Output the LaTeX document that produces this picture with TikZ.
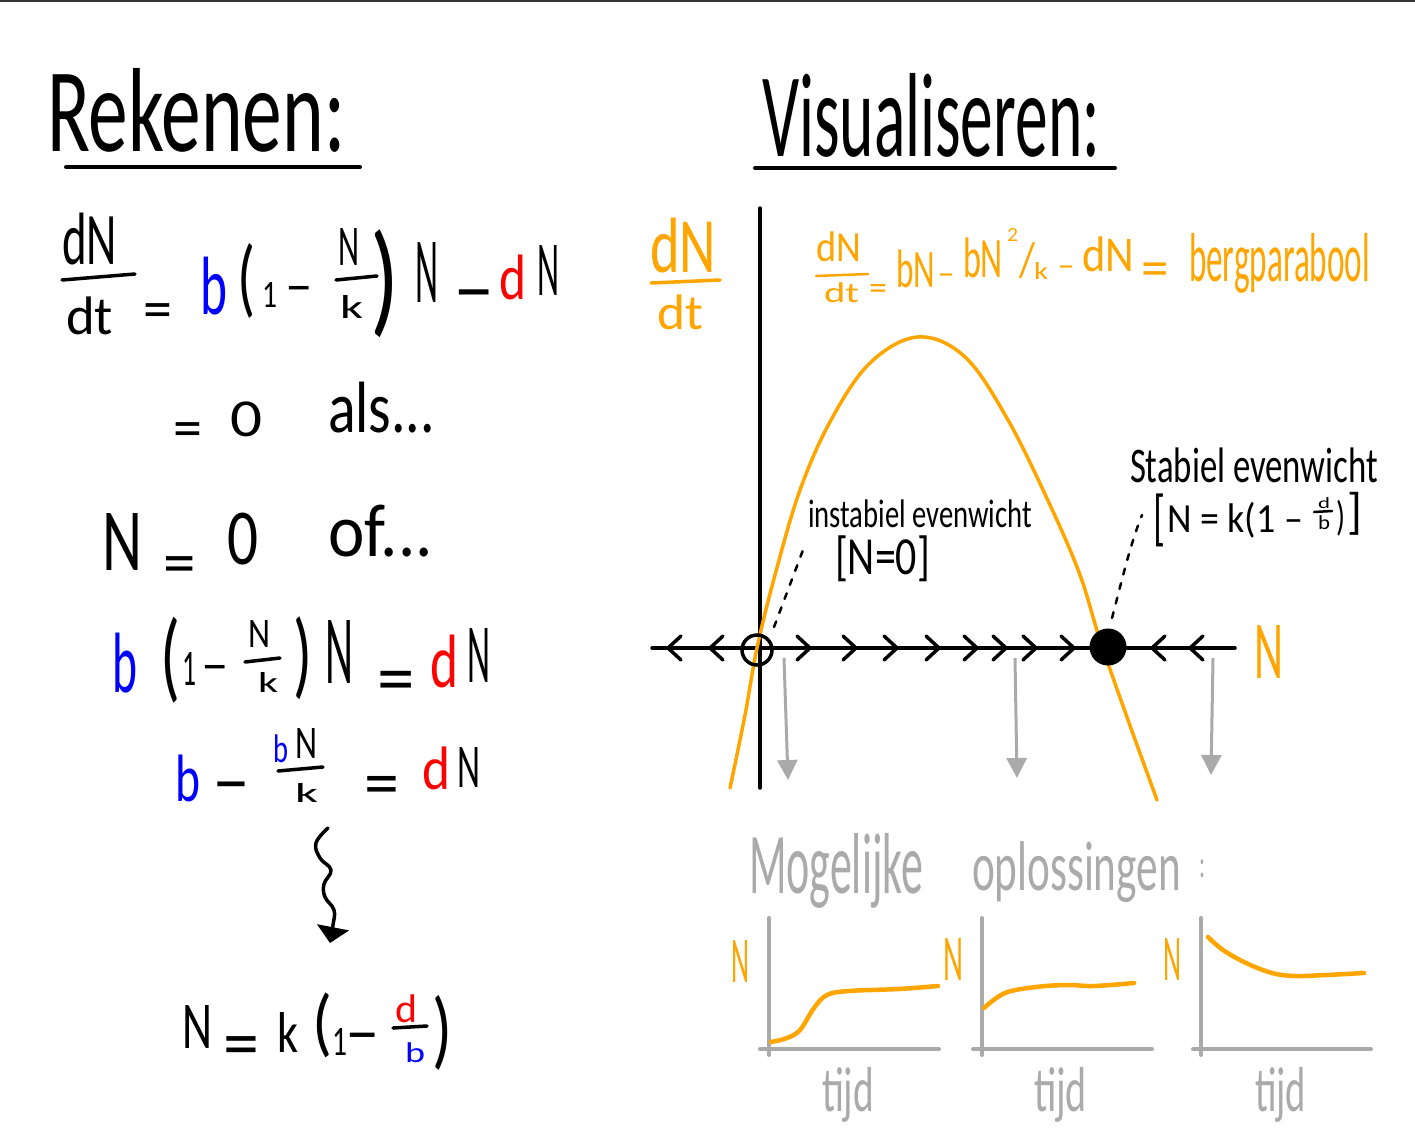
\documentclass[tikz,border=0pt]{standalone}
\usepackage{fontspec}
\setmainfont{Carlito}
\usepackage{graphicx}
\usetikzlibrary{arrows.meta}
\definecolor{hor}{RGB}{255,165,0}
\definecolor{hbl}{RGB}{0,0,255}
\definecolor{hrd}{RGB}{255,0,0}
\definecolor{hgr}{RGB}{170,170,170}
\definecolor{htop}{RGB}{51,51,51}
\newcommand\fb[3]{\resizebox*{#1pt}{#2pt}{#3}}
\begin{document}
\begin{tikzpicture}[x=1pt,y=-1pt,
  t/.style={inner sep=0pt, outer sep=0pt, anchor=north west, font=\fontsize{20}{24}\selectfont},
  op/.style={inner sep=0pt, outer sep=0pt, anchor=base},
  ink/.style={line width=3.5pt, line cap=round, line join=round},
  thin/.style={line width=2.5pt, line cap=round},
  gax/.style={line width=4pt, hgr, line cap=round},
  ocurve/.style={line width=4.5pt, hor, line cap=round},
  dotline/.style={line width=2.5pt, dash pattern=on 6pt off 9pt, line cap=round},
  garrow/.style={line width=3pt, hgr, -{Triangle[length=20pt,width=20pt]}},
  chev/.style={line width=3.5pt, line cap=round, line join=round}]
\useasboundingbox (0,0) rectangle (1415,1142);
\fill[white] (0,0) rectangle (1415,1142);
\fill[htop] (0,0) rectangle (1415,2.5);

% ---------- titles
\node[t] (tit1) at (47,68) {\fb{298}{84}{Rekenen:}};
\draw[line width=4pt, line cap=round] (66,167) -- (360,167);
\node[t] (tit2) at (762,73) {\fb{338}{84}{Visualiseren:}};
\draw[line width=4pt, line cap=round] (755,168) -- (1115,168);

% ---------- equation 1
\node[t] (e1n) at (62,213) {\fb{55}{52}{dN}};
\draw[ink] (62,280) -- (135,274);
\node[t] (e1d) at (66,297) {\fb{47}{38}{dt}};
\node[op, font=\fontsize{58}{58}\selectfont] (e1eq) at (158,328) {=};
\node[t, text=hbl] (e1b) at (200,257) {\fb{27}{58}{b}};
\node[t] (e1p) at (237,243) {\fb{18}{75}{(}};
\node[t] (e1one) at (262,282) {\fb{15}{25}{1}};
\node[op, font=\fontsize{55}{55}\selectfont] (e1m) at (299,303) {–};
\node[t] (e1fn) at (338,228) {\fb{21}{37}{N}};
\draw[ink] (336,280) -- (377,276);
\node[t] (e1fk) at (340,295) {\fb{23}{23}{k}};
\node[t] (e1q) at (370,230) {\fb{29}{108}{)}};
\node[t] (e1N) at (415,242) {\fb{23}{60}{N}};
\node[op, font=\fontsize{83}{83}\selectfont] (e1m2) at (474,315) {–};
\node[t, text=hrd] (e1dd) at (499,255) {\fb{27}{45}{d}};
\node[t] (e1N2) at (537,245) {\fb{22}{50}{N}};

% ---------- equation 2
\node[op, font=\fontsize{58}{58}\selectfont] (e2eq) at (188,447) {=};
\node[t] (e2z) at (230,402) {\fb{32}{35}{0}};
\node[t] (e2als) at (328,382) {\fb{107}{51}{als...}};

% ---------- equation 3
\node[t] (e3N) at (102,513) {\fb{40}{57}{N}};
\node[op, font=\fontsize{65}{65}\selectfont] (e3eq) at (180,584) {=};
\node[t] (e3z) at (227,513) {\fb{31}{52}{0}};
\node[t] (e3of) at (328,505) {\fb{105}{52}{of...}};

% ---------- equation 4
\node[t, text=hbl] (e4b) at (112,633) {\fb{25}{60}{b}};
\node[t] (e4p) at (160,617) {\fb{20}{86}{(}};
\node[t] (e4one) at (182,652) {\fb{14}{33}{1}};
\node[op, font=\fontsize{55}{55}\selectfont] (e4m) at (215,682) {–};
\node[t] (e4fn) at (248,620) {\fb{22}{27}{N}};
\draw[ink] (245,662) -- (280,658);
\node[t] (e4fk) at (258,672) {\fb{20}{20}{k}};
\node[t] (e4q) at (293,617) {\fb{19}{83}{)}};
\node[t] (e4N) at (325,620) {\fb{28}{63}{N}};
\node[op, font=\fontsize{75}{75}\selectfont] (e4eq) at (396,703) {=};
\node[t, text=hrd] (e4d) at (430,635) {\fb{28}{53}{d}};
\node[t] (e4N2) at (467,628) {\fb{23}{54}{N}};

% ---------- equation 5
\node[t, text=hbl] (e5b) at (175,755) {\fb{25}{47}{b}};
\node[op, font=\fontsize{76}{76}\selectfont] (e5m) at (231,805) {–};
\node[t, text=hbl] (e5fb) at (273,735) {\fb{15}{28}{b}};
\node[t] (e5fn) at (295,728) {\fb{22}{30}{N}};
\draw[ink] (278,771) -- (323,767);
\node[t] (e5fk) at (295,783) {\fb{23}{19}{k}};
\node[op, font=\fontsize{70}{70}\selectfont] (e5eq) at (382,806) {=};
\node[t, text=hrd] (e5d) at (422,747) {\fb{28}{43}{d}};
\node[t] (e5N) at (457,747) {\fb{23}{40}{N}};

% ---------- squiggly arrow
\coordinate (sqs) at (328,828);
\coordinate (sqe) at (330,943);
\draw[ink, -{Triangle[length=16pt,width=32pt]}] plot[smooth, tension=0.7] coordinates {(sqs) (316,843) (320,858) (331,870) (324,884) (325,897) (334,910) (333,925) (sqe)};

% ---------- equation 6
\node[t] (e6N) at (182,1005) {\fb{30}{43}{N}};
\node[op, font=\fontsize{72}{72}\selectfont] (e6eq) at (241,1067) {=};
\node[t] (e6k) at (277,1012) {\fb{21}{40}{k}};
\node[t] (e6p) at (312,993) {\fb{20}{65}{(}};
\node[t] (e6one) at (332,1028) {\fb{15}{27}{1}};
\node[op, font=\fontsize{69}{69}\selectfont] (e6m) at (363,1054) {–};
\node[t, text=hrd] (e6d) at (395,995) {\fb{22}{28}{d}};
\draw[ink] (393,1028) -- (427,1026);
\node[t, text=hbl] (e6b) at (405,1043) {\fb{20}{20}{b}};
\node[t] (e6q) at (432,995) {\fb{20}{75}{)}};

% ---------- right graph: axes label
\node[t, text=hor] (ydn) at (650,218) {\fb{66}{55}{dN}};
\draw[ink, hor] (651,283) -- (720,280);
\node[t, text=hor] (ydt) at (657,295) {\fb{46}{35}{dt}};

% formula
\node[t, text=hor] (fdn) at (816,232) {\fb{45}{30}{dN}};
\draw[thin, hor] (816,276) -- (868,274);
\node[t, text=hor] (fdt) at (824,283) {\fb{35}{20}{dt}};
\node[op, text=hor, font=\fontsize{35}{35}\selectfont] (feq) at (878,299) {=};
\node[t, text=hor] (fbn) at (896,250) {\fb{39}{38}{bN}};
\node[op, text=hor, font=\fontsize{34}{34}\selectfont] (fm1) at (946,284) {–};
\node[t, text=hor] (fbn2) at (963,238) {\fb{40}{40}{bN}};
\node[t, text=hor] (fsq) at (1007,228) {\fb{11}{13}{2}};
\node[t, text=hor] (fsl) at (1019,243) {\fb{16}{36}{/}};
\node[t, text=hor] (fk) at (1034,262) {\fb{14}{17}{k}};
\node[op, text=hor, font=\fontsize{34}{34}\selectfont] (fm2) at (1066,276) {–};
\node[t, text=hor] (fdN) at (1082,237) {\fb{52}{35}{dN}};
\node[op, text=hor, font=\fontsize{55}{55}\selectfont] (feq2) at (1155,286) {=};
\node[t, text=hor] (fberg) at (1189,233) {\fb{181}{60}{bergparabool}};

% axes
\draw[ink] (760,208) -- (760,788);
\draw[ink] (652,648) -- (1235,648);

% parabola
\draw[line width=3.5pt, hor, line cap=round] plot[smooth, tension=0.6] coordinates {(730,788) (745,715) (757,648) (775,575) (800,490) (831,420) (870,363) (918,337) (965,357) (1008,420) (1050,505) (1080,575) (1100,640) (1128,720) (1157,800)};

% chevrons
\foreach \x in {810,856,897,939,977,1006,1036,1074}
  \draw[chev] (\x-13,636) -- (\x,648) -- (\x-13,660);
\foreach \x in {668,710,1152,1190}
  \draw[chev] (\x+13,636) -- (\x,648) -- (\x+13,660);

% equilibria
\node[circle, draw, line width=3.5pt, minimum size=30pt, inner sep=0pt] (eqU) at (757,650) {};
\node[circle, fill, draw, line width=2pt, minimum size=35pt, inner sep=0pt] (eqS) at (1108,647) {};

% labels
\node[t] (lin) at (808,500) {\fb{224}{28}{instabiel evenwicht}};
\node[t] (lin2) at (835,536) {\fb{95}{46}{[N=0]}};
\node[t] (lst) at (1130,448) {\fb{248}{35}{Stabiel evenwicht}};
\node[t] (lst0) at (1153,494) {\fb{12}{53}{[}};
\node[t] (lst1) at (1167,502) {\fb{136}{36}{N = k(1 –}};
\node[t] (lstd) at (1318,498) {\fb{12}{11}{d}};
\draw[thin] (1314,512) -- (1332,511);
\node[t] (lstb) at (1318,516) {\fb{12}{14}{b}};
\node[t] (lstq) at (1336,500) {\fb{9}{36}{)}};
\node[t] (lstc) at (1347,492) {\fb{15}{43}{]}};

\coordinate (d1a) at (774,627);
\coordinate (d1b) at (803,550);
\draw[dotline] (d1a) -- (d1b);
\coordinate (d2a) at (1112,618);
\coordinate (d2b) at (1142,515);
\draw[dotline] (d2a) .. controls (1122,580) and (1130,545) .. (d2b);

\node[t, text=hor] (axN) at (1254,625) {\fb{29}{53}{N}};

% gray arrows
\coordinate (g1a) at (784,658); \coordinate (g1b) at (788,780);
\coordinate (g2a) at (1015,658); \coordinate (g2b) at (1017,778);
\coordinate (g3a) at (1213,658); \coordinate (g3b) at (1211,775);
\draw[garrow] (g1a) -- (g1b);
\draw[garrow] (g2a) -- (g2b);
\draw[garrow] (g3a) -- (g3b);

% ---------- possible solutions
\node[t, text=hgr] (mog) at (749,833) {\fb{174}{75}{Mogelijke}};
\node[t, text=hgr] (opl) at (972,842) {\fb{209}{61}{oplossingen}};
\node[t, text=hgr] (col) at (1199,860) {\fb{6}{18}{:}};

\draw[gax] (769,918) -- (769,1055);
\draw[gax] (760,1049) -- (939,1049);
\draw[gax] (982,918) -- (982,1055);
\draw[gax] (973,1049) -- (1152,1049);
\draw[gax] (1201,918) -- (1201,1055);
\draw[gax] (1193,1049) -- (1371,1049);

\node[t, text=hor] (n1) at (731,940) {\fb{18}{42}{N}};
\node[t, text=hor] (n2) at (943,938) {\fb{20}{42}{N}};
\node[t, text=hor] (n3) at (1163,938) {\fb{18}{42}{N}};

\draw[ocurve] plot[smooth, tension=0.6] coordinates {(771,1042) (787,1038) (800,1030) (814,1008) (827,995) (849,991) (898,989) (938,986)};
\draw[ocurve] plot[smooth, tension=0.6] coordinates {(984,1008) (1005,993) (1036,987) (1067,985) (1094,986) (1134,983)};
\draw[ocurve] plot[smooth, tension=0.6] coordinates {(1208,937) (1223,950) (1246,963) (1272,973) (1295,976) (1326,975) (1364,973)};

\node[t, text=hgr] (tj1) at (822,1067) {\fb{52}{55}{tijd}};
\node[t, text=hgr] (tj2) at (1034,1067) {\fb{53}{55}{tijd}};
\node[t, text=hgr] (tj3) at (1255,1067) {\fb{51}{55}{tijd}};
\end{tikzpicture}
\end{document}
